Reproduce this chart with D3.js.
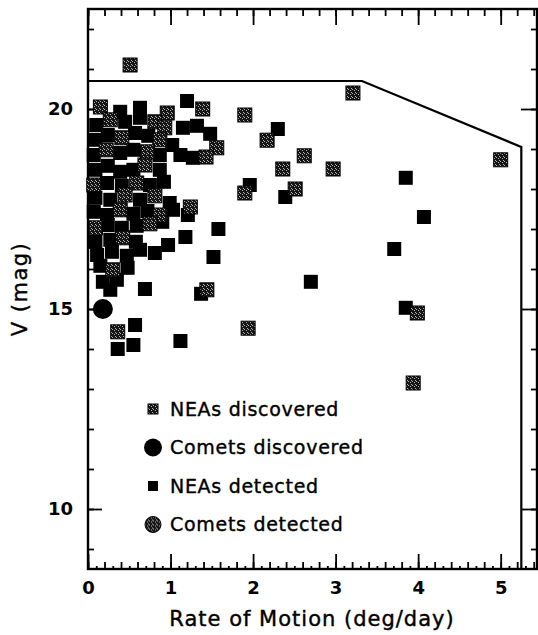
<!DOCTYPE html>
<html>
<head>
<meta charset="utf-8">
<script src="https://cdn.jsdelivr.net/npm/d3@7"></script>
<style>
  body { margin: 0; background: #fff; }
  text { font-family: "DejaVu Sans", sans-serif; fill: #000; }
</style>
</head>
<body>
<div id="chart"></div>
<script>
// [rate deg/day, V mag]
var neaDiscovered = [
  [0.15, 20.05], [0.96, 19.90], [1.39, 20.00], [0.27, 19.73], [0.81, 19.68],
  [0.93, 19.53], [0.41, 19.28], [0.87, 19.23], [1.56, 19.03], [0.22, 18.98],
  [0.72, 18.93], [1.43, 18.80], [0.69, 18.60], [0.07, 18.10], [0.59, 18.15],
  [0.45, 17.85], [0.81, 17.83], [0.39, 17.48], [0.87, 17.35], [1.24, 17.55],
  [0.09, 17.03], [0.75, 17.13], [0.42, 16.78], [0.30, 15.98],
  [0.51, 21.10], [1.90, 19.85], [2.17, 19.22], [1.90, 17.90], [1.44, 15.48],
  [3.21, 20.40], [2.62, 18.83], [2.36, 18.50], [2.97, 18.50], [2.51, 18.00],
  [5.00, 18.73], [3.99, 14.90], [3.94, 13.15], [0.36, 14.43], [1.94, 14.52]
];
var neaDetected = [
  [0.39, 19.93], [0.63, 20.03], [1.20, 20.20], [0.10, 19.60], [0.45, 19.68],
  [0.63, 19.78], [1.15, 19.53], [1.32, 19.58], [1.48, 19.38], [0.09, 19.23],
  [0.24, 19.35], [0.57, 19.40], [0.73, 19.33], [1.02, 19.10], [0.07, 18.85],
  [0.39, 18.90], [0.55, 18.98], [0.87, 18.85], [1.12, 18.85], [1.27, 18.78],
  [0.09, 18.48], [0.24, 18.58], [0.39, 18.43], [0.55, 18.48], [0.87, 18.48],
  [0.23, 18.15], [0.41, 18.08], [0.75, 18.10], [0.92, 18.18], [0.09, 17.78],
  [0.27, 17.73], [0.63, 17.73], [0.99, 17.65], [0.07, 17.43], [0.23, 17.35],
  [0.55, 17.38], [0.72, 17.45], [1.03, 17.48], [1.21, 17.35], [0.24, 17.10],
  [0.41, 17.03], [0.59, 17.08], [0.90, 17.18], [0.09, 16.68], [0.27, 16.73],
  [0.58, 16.68], [0.97, 16.60], [1.18, 16.80], [0.11, 16.35], [0.29, 16.43],
  [0.47, 16.33], [0.63, 16.48], [0.81, 16.40], [0.15, 16.08], [0.48, 16.03],
  [0.18, 15.68], [0.35, 15.73], [0.27, 15.48],
  [2.30, 19.50], [1.96, 18.10], [2.39, 17.80], [1.58, 17.00], [1.52, 16.30],
  [1.37, 15.38], [0.69, 15.50], [3.85, 18.28], [4.07, 17.30], [3.71, 16.50],
  [2.70, 15.68], [3.85, 15.03], [0.57, 14.60], [0.36, 14.00], [0.55, 14.10],
  [1.12, 14.20]
];
var cometDiscovered = [[0.18, 15.00]];
var cometDetected = [];

// survey limit outline
var limitRate = [0, 3.32, 5.25, 5.25];
var limitMag = [20.7, 20.7, 19.05, 8.5];

var xMajor = [0, 1, 2, 3, 4, 5];
var yMajor = [10, 15, 20];
var legendLabels = ["NEAs discovered", "Comets discovered", "NEAs detected", "Comets detected"];

var width = 538, height = 635;
var margin = {top: 9, right: 1, bottom: 66, left: 88};
var w = width - margin.left - margin.right,
    h = height - margin.top - margin.bottom;

var svg = d3.select("#chart").append("svg")
    .attr("width", width)
    .attr("height", height);

// speckled fill for the grey symbols
var defs = svg.append("defs");
var pat = defs.append("pattern")
    .attr("id", "speck")
    .attr("patternUnits", "userSpaceOnUse")
    .attr("width", 4).attr("height", 4);
pat.append("rect").attr("width", 4).attr("height", 4).attr("fill", "#151515");
[[0, 0], [2, 1], [3, 3]].forEach(function (p) {
    pat.append("rect").attr("x", p[0]).attr("y", p[1])
        .attr("width", 1).attr("height", 1).attr("fill", "#b4b4b4");
});

var g = svg.append("g").attr("transform", "translate(" + margin.left + "," + margin.top + ")");

var x = d3.scaleLinear().domain([0, 5.44]).range([0, w]);
var y = d3.scaleLinear().domain([8.5, 22.5]).range([h, 0]);

var xMinor = d3.range(0, 5.41, 0.2);
var xTiny = d3.range(0.1, 5.41, 0.2);
var yMinor = d3.range(9, 22.1, 1);

function strip(sel) {
    sel.select(".domain").remove();
    sel.selectAll("line").attr("stroke", "#000").attr("stroke-width", 1.8);
}

// bottom
g.append("g").attr("transform", "translate(0," + h + ")")
    .call(d3.axisBottom(x).tickValues(xTiny).tickSize(-3).tickFormat(""))
    .call(strip);
g.append("g").attr("transform", "translate(0," + h + ")")
    .call(d3.axisBottom(x).tickValues(xMinor).tickSize(-7).tickFormat(""))
    .call(strip);
g.append("g").attr("class", "xlab").attr("transform", "translate(0," + h + ")")
    .call(d3.axisBottom(x).tickValues(xMajor).tickSize(-15).tickPadding(12).tickFormat(d3.format("d")))
    .call(strip);

// top
g.append("g")
    .call(d3.axisTop(x).tickValues(xMinor).tickSize(-7).tickFormat(""))
    .call(strip);
g.append("g")
    .call(d3.axisTop(x).tickValues(xMajor).tickSize(-16).tickFormat(""))
    .call(strip);

// left
g.append("g")
    .call(d3.axisLeft(y).tickValues(yMinor).tickSize(-6).tickFormat(""))
    .call(strip);
g.append("g").attr("class", "ylab")
    .call(d3.axisLeft(y).tickValues(yMajor).tickSize(-14).tickPadding(15).tickFormat(d3.format("d")))
    .call(strip);

// right
g.append("g").attr("transform", "translate(" + w + ",0)")
    .call(d3.axisRight(y).tickValues(yMinor).tickSize(-6).tickFormat(""))
    .call(strip);
g.append("g").attr("transform", "translate(" + w + ",0)")
    .call(d3.axisRight(y).tickValues(yMajor).tickSize(-16).tickFormat(""))
    .call(strip);

g.selectAll(".xlab text, .ylab text")
    .style("font-size", "18px")
    .style("font-weight", "bold")
    .style("font-family", "'DejaVu Sans', sans-serif");

// frame
g.append("rect")
    .attr("width", w).attr("height", h)
    .attr("fill", "none").attr("stroke", "#000").attr("stroke-width", 2.4);

// limit outline
var limit = limitRate.map(function (r, i) { return [r, limitMag[i]]; });
g.append("path")
    .datum(limit)
    .attr("fill", "none")
    .attr("stroke", "#000")
    .attr("stroke-width", 2.2)
    .attr("d", d3.line().x(function (d) { return x(d[0]); }).y(function (d) { return y(d[1]); }));

// points
var s = 14;
g.append("g").selectAll("rect")
    .data(neaDetected).enter().append("rect")
    .attr("x", function (d) { return x(d[0]) - s / 2; })
    .attr("y", function (d) { return y(d[1]) - s / 2; })
    .attr("width", s).attr("height", s)
    .attr("fill", "#000");

g.append("g").selectAll("rect")
    .data(neaDiscovered).enter().append("rect")
    .attr("x", function (d) { return x(d[0]) - s / 2; })
    .attr("y", function (d) { return y(d[1]) - s / 2; })
    .attr("width", s).attr("height", s)
    .attr("fill", "url(#speck)")
    .attr("stroke", "#000").attr("stroke-width", 1);

g.append("g").selectAll("circle")
    .data(cometDetected).enter().append("circle")
    .attr("cx", function (d) { return x(d[0]); })
    .attr("cy", function (d) { return y(d[1]); })
    .attr("r", 8).attr("fill", "url(#speck)");

g.append("g").selectAll("circle")
    .data(cometDiscovered).enter().append("circle")
    .attr("cx", function (d) { return x(d[0]); })
    .attr("cy", function (d) { return y(d[1]); })
    .attr("r", 10).attr("fill", "#000");

// legend
var leg = g.append("g").attr("transform", "translate(65,400)");
var legItems = leg.selectAll("g").data(legendLabels).enter().append("g")
    .attr("transform", function (d, i) { return "translate(0," + (i * 38.5) + ")"; });
legItems.each(function (d, i) {
    var it = d3.select(this);
    if (i === 0) {
        it.append("rect").attr("x", -5).attr("y", -5).attr("width", 10).attr("height", 10)
            .attr("fill", "url(#speck)").attr("stroke", "#000");
    } else if (i === 1) {
        it.append("circle").attr("r", 9).attr("fill", "#000");
    } else if (i === 2) {
        it.append("rect").attr("x", -5).attr("y", -5).attr("width", 10).attr("height", 10)
            .attr("fill", "#000");
    } else {
        it.append("circle").attr("r", 8).attr("fill", "url(#speck)").attr("stroke", "#000");
    }
    it.append("text")
        .attr("x", 17).attr("dy", "0.36em")
        .style("font-size", "19px")
        .style("letter-spacing", "0.7px")
        .style("stroke", "#000").style("stroke-width", 0.4)
        .text(d);
});

// axis titles
svg.append("text")
    .attr("x", 312).attr("y", 626)
    .attr("text-anchor", "middle")
    .style("font-size", "21px")
    .style("letter-spacing", "1px")
    .style("stroke", "#000").style("stroke-width", 0.4)
    .text("Rate of Motion (deg/day)");

svg.append("text")
    .attr("transform", "translate(27," + 289 + ") rotate(-90)")
    .attr("text-anchor", "middle")
    .style("font-size", "21px")
    .style("letter-spacing", "1.5px")
    .style("stroke", "#000").style("stroke-width", 0.4)
    .text("V (mag)");
</script>
</body>
</html>
